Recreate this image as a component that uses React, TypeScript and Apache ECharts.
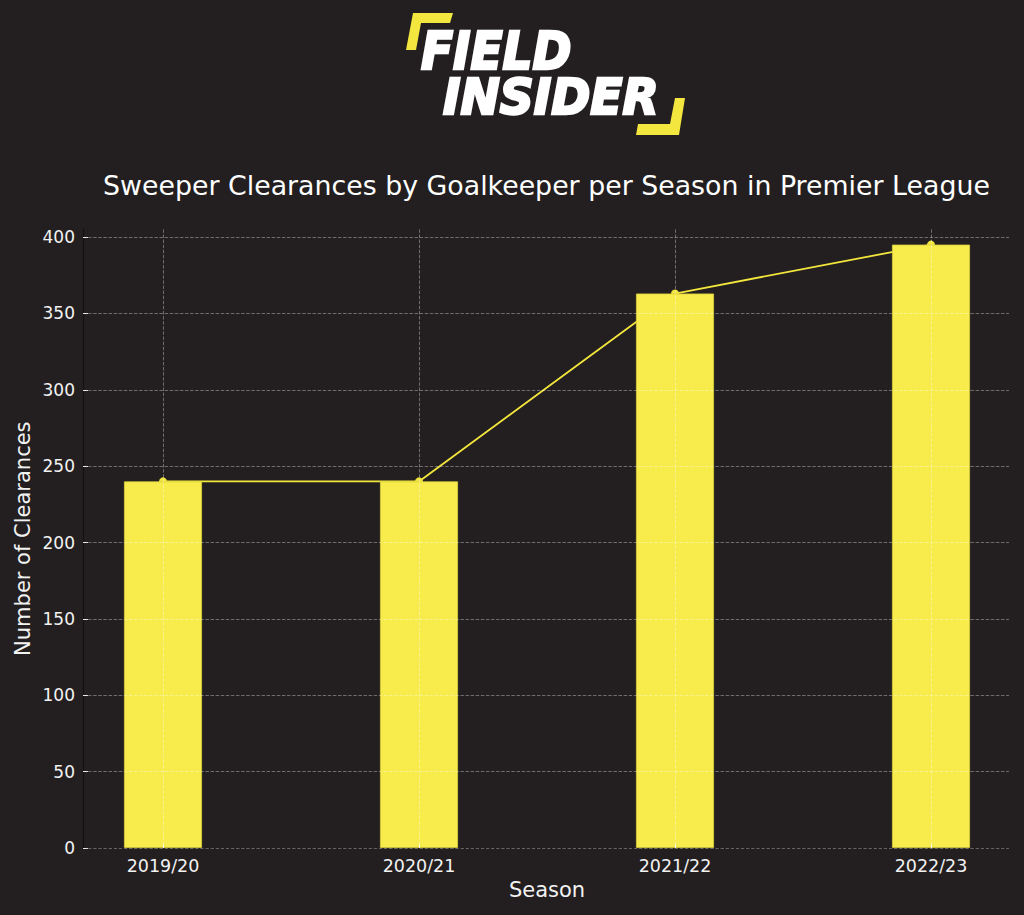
import React, { useEffect, useRef } from "react";
import * as echarts from "echarts";

const seasons = ["2019/20", "2020/21", "2021/22", "2022/23"];
const clearances = [240, 240, 363, 395];
const yTicks = [0, 50, 100, 150, 200, 250, 300, 350, 400];

const BG = "#231f20";
const YELLOW = "#f7ec4b";
const FONT = "'DejaVu Sans', sans-serif";

export default function App() {
  const ref = useRef<HTMLDivElement>(null);
  useEffect(() => {
    if (!ref.current) return;
    const chart = echarts.init(ref.current, undefined, { renderer: "svg" });
    const bottom = 67;
    const top400 = 237;
    const plotH = 915 - bottom - top400;
    const topMax = 915 - bottom - (plotH * 405) / 400;
    const gridLine = { color: "rgba(255,255,255,0.38)", type: [3.5, 1.6], width: 0.9 };
    const option: any = {
      animation: false,
      backgroundColor: BG,
      textStyle: { fontFamily: FONT },
      grid: [
        { left: 83, right: 15, top: topMax, bottom },
        { left: 83, right: 15, top: top400, bottom },
        { left: 163, right: 93, top: topMax, bottom },
      ],
      xAxis: [
        {
          gridIndex: 0,
          type: "value",
          min: 0,
          max: 1,
          axisLine: { show: true, lineStyle: { color: "#141112", width: 1.2 } },
          axisTick: { show: false },
          axisLabel: { show: false },
          splitLine: { show: false },
        },
        {
          gridIndex: 1,
          type: "value",
          min: 0,
          max: 1,
          show: false,
        },
        {
          gridIndex: 2,
          type: "category",
          data: seasons,
          boundaryGap: false,
          z: 5,
          axisLine: { show: false },
          axisTick: {
            show: true,
            inside: true,
            length: 4,
            lineStyle: { color: "rgba(255,255,255,0.85)", width: 1 },
          },
          axisLabel: { color: "#f2f2f2", fontSize: 17.5, margin: 9, fontFamily: FONT },
          splitLine: { show: true, lineStyle: gridLine },
          name: "Season",
          nameLocation: "middle",
          nameGap: 31,
          nameTextStyle: { color: "#f2f2f2", fontSize: 21, fontFamily: FONT },
        },
      ],
      yAxis: [
        {
          gridIndex: 0,
          type: "value",
          min: 0,
          max: 405,
          axisLine: { show: true, lineStyle: { color: "#141112", width: 1.2 } },
          axisTick: { show: false },
          axisLabel: { show: false },
          splitLine: { show: false },
          name: "Number of Clearances",
          nameLocation: "middle",
          nameRotate: 90,
          nameGap: 50,
          nameTextStyle: { color: "#f2f2f2", fontSize: 21, fontFamily: FONT },
        },
        {
          gridIndex: 1,
          type: "value",
          min: 0,
          max: 400,
          interval: 50,
          z: 5,
          axisLine: { show: false },
          axisTick: {
            show: true,
            inside: true,
            length: 5,
            lineStyle: { color: "rgba(255,255,255,0.85)", width: 1 },
          },
          axisLabel: {
            color: "#f2f2f2",
            fontSize: 17,
            margin: 8,
            fontFamily: FONT,
            formatter: (v: number) => (yTicks.includes(v) ? String(v) : ""),
          },
          splitLine: { show: true, lineStyle: gridLine },
        },
        {
          gridIndex: 2,
          type: "value",
          min: 0,
          max: 405,
          show: false,
        },
      ],
      series: [
        {
          type: "line",
          xAxisIndex: 2,
          yAxisIndex: 2,
          data: clearances,
          z: 1,
          symbol: "circle",
          symbolSize: 8,
          lineStyle: { color: "#f3e63c", width: 1.8 },
          itemStyle: { color: "#f3e63c" },
        },
        {
          type: "bar",
          xAxisIndex: 2,
          yAxisIndex: 2,
          data: clearances,
          z: 2,
          barWidth: 78,
          itemStyle: { color: YELLOW, borderColor: "#d9cf3e", borderWidth: 0.8 },
        },
      ],
      graphic: [
        {
          type: "text",
          x: 546.5,
          y: 185,
          style: {
            text: "Sweeper Clearances by Goalkeeper per Season in Premier League",
            fill: "#ffffff",
            fontSize: 26.8,
            fontFamily: FONT,
            textAlign: "center",
            textVerticalAlign: "middle",
          },
        },
        {
          type: "polygon",
          shape: {
            points: [
              [413, 13],
              [453, 13],
              [450, 23],
              [421, 23],
              [416, 50],
              [406, 50],
            ],
          },
          style: { fill: "#f3e63f" },
        },
        {
          type: "polygon",
          shape: {
            points: [
              [675, 98],
              [685, 98],
              [679, 135],
              [636, 135],
              [638, 124],
              [670, 124],
            ],
          },
          style: { fill: "#f3e63f" },
        },
        {
          type: "text",
          x: 421,
          y: 52,
          scaleX: 0.92,
          style: {
            text: "FIELD",
            fill: "#ffffff",
            stroke: "#ffffff",
            lineWidth: 2.6,
            fontSize: 51,
            fontWeight: 900,
            fontStyle: "italic",
            fontFamily: FONT,
            textAlign: "left",
            textVerticalAlign: "middle",
          },
        },
        {
          type: "text",
          x: 443,
          y: 96.5,
          scaleX: 0.96,
          style: {
            text: "INSIDER",
            fill: "#ffffff",
            stroke: "#ffffff",
            lineWidth: 2.6,
            fontSize: 49,
            fontWeight: 900,
            fontStyle: "italic",
            fontFamily: FONT,
            textAlign: "left",
            textVerticalAlign: "middle",
          },
        },
      ],
    };
    chart.setOption(option);
    return () => chart.dispose();
  }, []);
  return (
    <div
      ref={ref}
      style={{ position: "fixed", left: 0, top: 0, width: 1024, height: 915, background: BG }}
    />
  );
}
